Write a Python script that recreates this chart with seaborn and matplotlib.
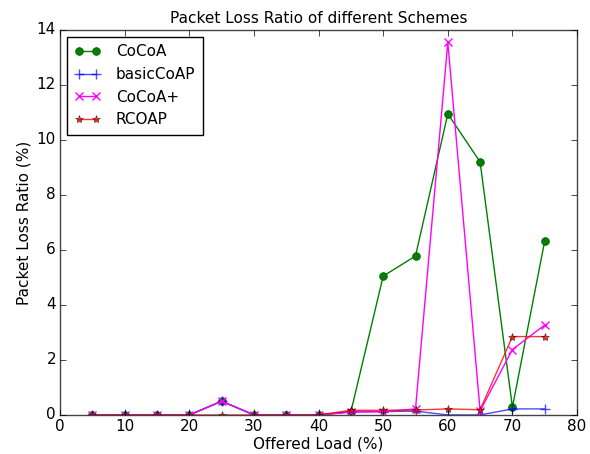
import matplotlib
matplotlib.use("Agg")
import matplotlib.pyplot as plt
import seaborn as sns
import pandas as pd

loads = [5, 10, 15, 20, 25, 30, 35, 40, 45, 50, 55, 60, 65, 70, 75]
cocoa = [0, 0, 0, 0, 0.5, 0, 0, 0, 0.12, 5.05, 5.78, 10.95, 9.2, 0.28, 6.33]
basic = [0, 0, 0, 0, 0.5, 0, 0, 0, 0.12, 0.12, 0.14, 0, 0, 0.22, 0.22]
cocoa_plus = [0, 0, 0, 0, 0.5, 0, 0, 0, 0.1, 0.12, 0.22, 13.55, 0.15, 2.38, 3.27]
rcoap = [0, 0, 0, 0, 0, 0, 0, 0, 0.17, 0.17, 0.18, 0.22, 0.19, 2.85, 2.85]

series = {"CoCoA": cocoa, "basicCoAP": basic, "CoCoA+": cocoa_plus, "RCOAP": rcoap}
styles = {
    "CoCoA": dict(color="green", marker="o", markersize=5.5, markeredgecolor="darkgreen", markerfacecolor="green", markeredgewidth=0.6),
    "basicCoAP": dict(color="blue", marker="+", markersize=7, markeredgecolor="blue", markeredgewidth=1.0, alpha=0.7),
    "CoCoA+": dict(color="magenta", marker="x", markersize=6, markeredgecolor="magenta", markeredgewidth=1.0),
    "RCOAP": dict(color="red", marker="*", markersize=6, markeredgecolor="black", markerfacecolor="red", markeredgewidth=0.4, alpha=0.8),
}

plt.style.use("classic")
fig = plt.figure(figsize=(5.9, 4.54), dpi=100, facecolor="white")
ax = fig.add_axes([0.102, 0.086, 0.876, 0.848])

for name, vals in series.items():
    df = pd.DataFrame({"load": loads, "plr": vals})
    sns.lineplot(data=df, x="load", y="plr", ax=ax, label=name, linewidth=1.0, **styles[name])

ax.set_xlim(0, 80)
ax.set_ylim(0, 14)
ax.set_xticks(range(0, 81, 10))
ax.set_yticks(range(0, 15, 2))
ax.set_xlabel("Offered Load (%)", fontsize=11, labelpad=2)
ax.set_ylabel("Packet Loss Ratio (%)", fontsize=11, labelpad=4)
ax.set_title("Packet Loss Ratio of different Schemes", fontsize=11, pad=5)
ax.tick_params(labelsize=11, pad=3)
for sp in ax.spines.values():
    sp.set_color("#444444")
leg = ax.legend(loc="upper left", numpoints=2, fontsize=11, fancybox=False, frameon=True,
                handlelength=1.7, handletextpad=1.0, borderpad=0.5,
                borderaxespad=0.45, labelspacing=0.5)
leg.get_frame().set_edgecolor("black")

fig.savefig("out.png", dpi=100, facecolor="white")
